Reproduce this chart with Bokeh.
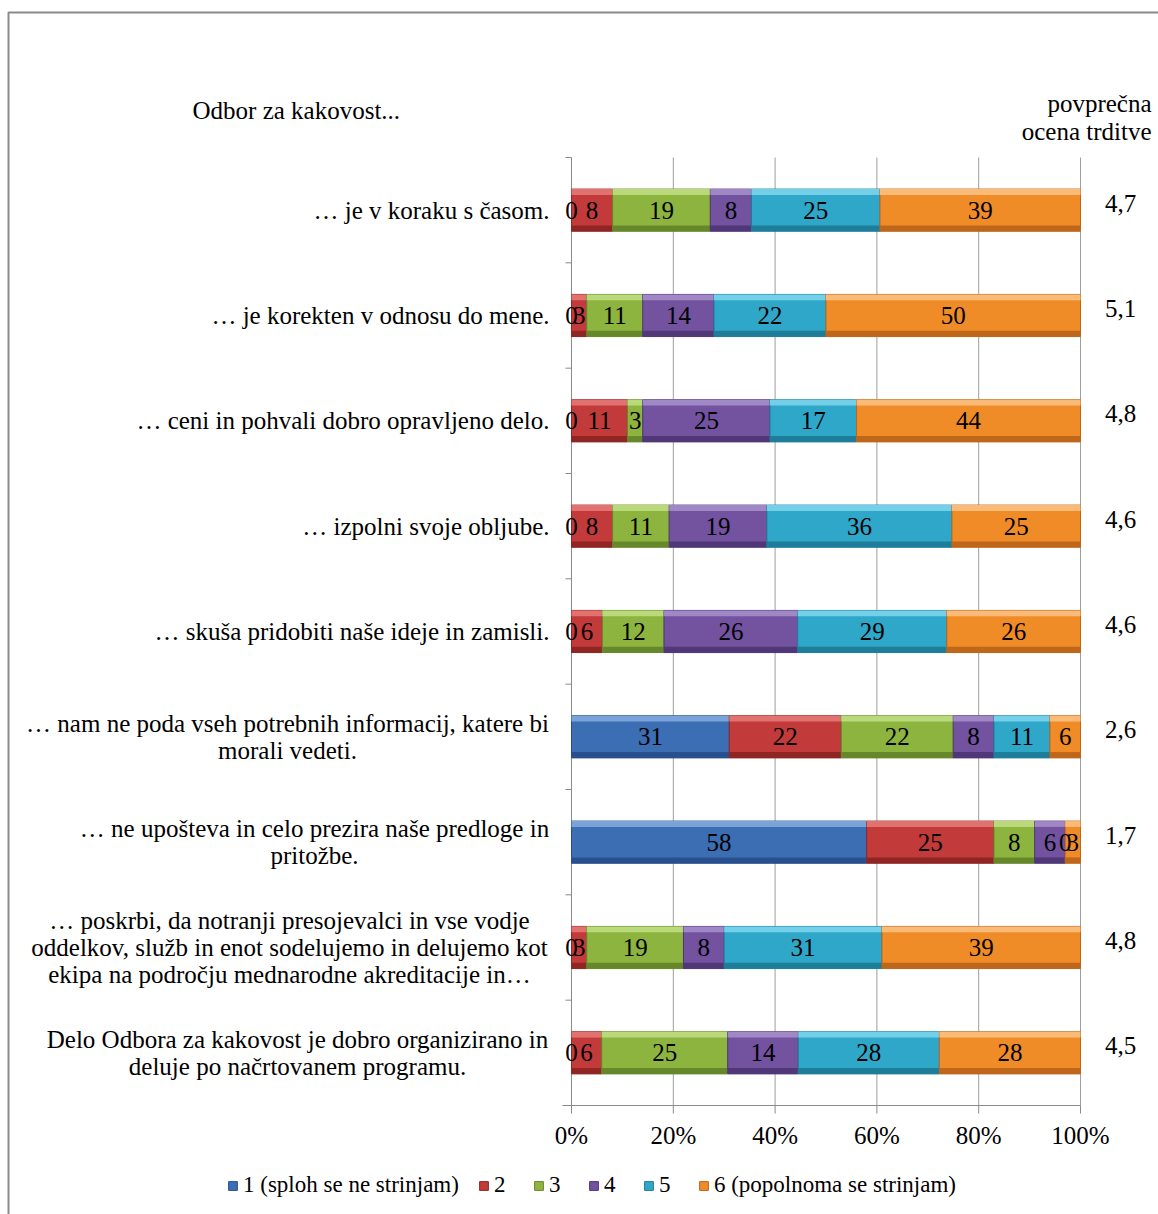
from bokeh.plotting import figure
from bokeh.models import ColumnDataSource, Range1d, Legend, LegendItem
from bokeh.embed import file_html
from bokeh.resources import INLINE
from bokeh.core.properties import value

# statements, listed top to bottom
categories = [
    "… je v koraku s časom.",
    "… je korekten v odnosu do mene.",
    "… ceni in pohvali dobro opravljeno delo.",
    "… izpolni svoje obljube.",
    "… skuša pridobiti naše ideje in zamisli.",
    "… nam ne poda vseh potrebnih informacij, katere bi\nmorali vedeti.",
    "… ne upošteva in celo prezira naše predloge in\npritožbe.",
    "… poskrbi, da notranji presojevalci in vse vodje\noddelkov, služb in enot sodelujemo in delujemo kot\nekipa na področju mednarodne akreditacije in…",
    "Delo Odbora za kakovost je dobro organizirano in\ndeluje po načrtovanem programu.",
]
series_names = ["1 (sploh se ne strinjam)", "2", "3", "4", "5",
                "6 (popolnoma se strinjam)"]
s1 = [0, 0, 0, 0, 0, 31, 58, 0, 0]
s2 = [8, 3, 11, 8, 6, 22, 25, 3, 6]
s3 = [19, 11, 3, 11, 12, 22, 8, 19, 25]
s4 = [8, 14, 25, 19, 26, 8, 6, 8, 14]
s5 = [25, 22, 17, 36, 29, 11, 0, 31, 28]
s6 = [39, 50, 44, 25, 26, 6, 3, 39, 28]
means = ["4,7", "5,1", "4,8", "4,6", "4,6", "2,6", "1,7", "4,8", "4,5"]
x_ticks = [0, 20, 40, 60, 80, 100]
x_tick_labels = ["0%", "20%", "40%", "60%", "80%", "100%"]

series = [s1, s2, s3, s4, s5, s6]
base = ["#3B6EB3", "#C23B3A", "#8DB43F", "#7352A0", "#2FA7C9", "#F08C28"]
light = ["#7AA3DA", "#E27270", "#B9D97A", "#A088C6", "#74D0E8", "#FABB78"]
dark = ["#28508E", "#8F2624", "#66872A", "#503778", "#1E7E9A", "#BE6619"]

FONT = "Liberation Serif"
FS = "25px"
W, H = 1158, 1214
# pixel geometry of the plotting area
X0, X100 = 571, 1080
Y_TOP, Y_BOT = 157, 1105
n = len(categories)
ppx = (X100 - X0) / 100.0
row = (Y_BOT - Y_TOP) / n
y_hi = n - 0.5 + Y_TOP / row
y_lo = -0.5 - (H - Y_BOT) / row


def px(x):
    return (x - X0) / ppx


def py(y):
    return y_hi - y / row


p = figure(width=W, height=H, x_range=Range1d(px(0), px(W)),
           y_range=Range1d(y_lo, y_hi), x_axis_type=None, y_axis_type=None,
           output_backend="svg", toolbar_location=None, min_border=0)
p.outline_line_color = None
p.background_fill_color = "white"

ys = [n - 1 - i for i in range(n)]

# outer chart border
p.line([px(8), px(8), px(W + 20)], [py(H + 20), py(12), py(12)],
       line_color="#8a8a8a", line_width=2)

# vertical gridlines
p.segment(x0=x_ticks[1:], y0=-0.5, x1=x_ticks[1:], y1=n - 0.5,
          line_color="#9e9e9e", line_width=1)

# axes
p.segment(x0=[0], y0=[-0.5], x1=[0], y1=[n - 0.5], line_color="#8a8a8a", line_width=1)
p.segment(x0=[px(562)], y0=[-0.5], x1=[100], y1=[-0.5], line_color="#8a8a8a", line_width=1)
bounds = [k - 0.5 for k in range(n + 1)]
p.segment(x0=[px(565)] * len(bounds), y0=bounds, x1=[0] * len(bounds), y1=bounds,
          line_color="#8a8a8a", line_width=1)
p.segment(x0=x_ticks, y0=-0.5, x1=x_ticks, y1=py(1113), line_color="#8a8a8a", line_width=1)
p.text(x=x_ticks, y=[py(1135)] * len(x_ticks), text=x_tick_labels,
       text_align="center", text_baseline="middle", text_font=value(FONT),
       text_font_size=FS, text_color="#000000")

# 100% stacked bars
totals = [sum(s[i] for s in series) for i in range(n)]
cum = [0.0] * n
bh = 0.4
strip = 0.055
legend_items = []
label_sources = []
for j, s in enumerate(series):
    left = [cum[i] for i in range(n)]
    right = [cum[i] + 100.0 * s[i] / totals[i] for i in range(n)]
    cum = right
    src = ColumnDataSource(dict(
        y=ys, left=left, right=right,
        mid=[(a + b) / 2 for a, b in zip(left, right)],
        lab=[str(v) for v in s],
        la=[1.0 if v > 0 else 0.0 for v in s],
        top_hi=[y + bh / 2 for y in ys],
        top_lo=[y + bh / 2 - strip for y in ys],
        bot_hi=[y - bh / 2 + strip for y in ys],
        bot_lo=[y - bh / 2 for y in ys],
    ))
    r = p.hbar(y="y", left="left", right="right", height=bh, source=src,
               fill_color=base[j], line_color=dark[j], line_alpha="la",
               fill_alpha="la", line_width=1)
    p.quad(left="left", right="right", bottom="top_lo", top="top_hi", source=src,
           fill_color=light[j], line_color=None, fill_alpha="la")
    p.quad(left="left", right="right", bottom="bot_lo", top="bot_hi", source=src,
           fill_color=dark[j], line_color=None, fill_alpha="la")
    label_sources.append(src)
    first = next(i for i, v in enumerate(s) if v > 0)
    legend_items.append(LegendItem(label=series_names[j], renderers=[r], index=first))

# value labels on top of all segments
for src in label_sources:
    p.text(x="mid", y="y", text="lab", source=src, text_align="center",
           text_baseline="middle", text_font=value(FONT), text_font_size=FS,
           text_color="#000000")

# statement labels: single lines right-aligned, wrapped ones centred as blocks
single = [c for c in categories if "\n" not in c]
p.text(x=[px(549)] * len(single), y=[ys[categories.index(c)] for c in single],
       text=single, text_align="right", text_baseline="middle",
       text_font=value(FONT), text_font_size=FS, text_color="#000000")
wrapped_cx = {5: 287, 6: 314, 7: 289, 8: 297}
for i, cx in wrapped_cx.items():
    p.text(x=[px(cx)], y=[ys[i]], text=[categories[i]], text_align="center",
           text_baseline="middle", text_font=value(FONT), text_font_size=FS,
           text_line_height=1.0, text_color="#000000")

# mean ratings column
p.text(x=[px(1120)] * n, y=[y + 7 / row for y in ys], text=means,
       text_align="center", text_baseline="middle", text_font=value(FONT),
       text_font_size=FS, text_color="#000000")

# headers
p.text(x=[px(192)], y=[py(110)], text=["Odbor za kakovost..."], text_align="left",
       text_baseline="middle", text_font=value(FONT), text_font_size=FS,
       text_color="#000000")
p.text(x=[px(1151), px(1151)], y=[py(103), py(131)],
       text=["povprečna", "ocena trditve"], text_align="right",
       text_baseline="middle", text_font=value(FONT), text_font_size=FS,
       text_color="#000000")

legend = Legend(items=legend_items, orientation="horizontal", location=(227, 16),
                glyph_width=11, glyph_height=11, label_standoff=5, spacing=19,
                padding=0, margin=0, border_line_alpha=0, background_fill_alpha=0,
                label_text_font=FONT, label_text_font_size="23px",
                label_text_color="#000000", label_height=22)
p.add_layout(legend)

open("out.html", "w").write(file_html(p, INLINE))
